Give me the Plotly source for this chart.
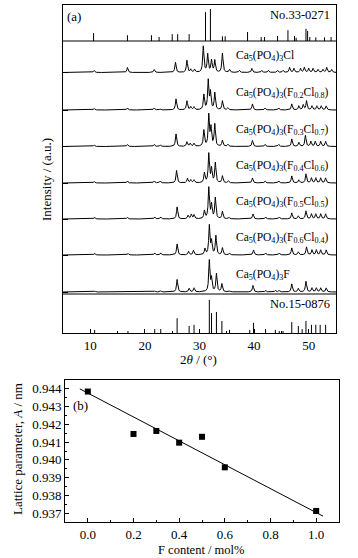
import numpy as np
import plotly.graph_objects as go

FONT = "Liberation Serif"
W, H = 358, 558

# ---------------- (a) XRD data ----------------
# reference card No.33-0271 (Ca5(PO4)3Cl): stick positions (2theta) and relative intensity (%)
ref33_pos = [10.6, 16.8, 21.2, 22.6, 25.0, 26.0, 28.1, 31.1, 32.0, 34.2, 34.7, 38.8, 41.3, 41.9,
             44.3, 46.2, 47.4, 47.7, 49.5, 49.8, 50.2, 51.3, 52.9, 54.1]
ref33_int = [22, 16, 16, 11, 19, 19, 19, 80, 89, 13, 13, 25, 11, 11,
             14, 30, 14, 9, 34, 28, 11, 10, 10, 11]

# reference card No.15-0876 (Ca5(PO4)3F)
ref15_pos = [10.8, 16.9, 21.8, 22.9, 25.9, 28.1, 29.0, 31.8, 32.2, 33.1, 34.1, 35.5, 39.2, 39.9,
             42.1, 43.9, 44.6, 45.3, 46.9, 48.1, 48.8, 49.5, 50.5, 51.3, 52.1, 53.1]
ref15_int = [8, 5, 10, 10, 38, 18, 21, 85, 51, 54, 31, 8, 8, 26,
             10, 8, 5, 5, 28, 18, 10, 31, 21, 21, 21, 21]

# measured patterns: peak positions (2theta) and peak heights (a.u.)
cl_pos = [10.7, 16.8, 21.7, 25.6, 27.7, 28.4, 29.1, 30.7, 31.5, 32.2, 32.8, 34.2, 35.5, 37.3, 39.6,
          41.4, 42.6, 44.3, 45.3, 46.5, 47.3, 48.5, 49.2, 50.0, 50.8, 51.7, 52.6, 53.3, 54.2]
cl_h = [2, 5, 3, 10, 12, 3, 3, 26, 18, 12, 12, 19, 3, 2, 4,
        2, 2, 2, 2, 5, 4, 4, 5, 4, 4, 3, 3, 5, 3]

f02_pos = [10.7, 16.8, 21.7, 22.8, 25.7, 27.7, 28.4, 29.0, 30.8, 31.6, 32.0, 32.8, 34.2, 35.2, 39.7,
           42.0, 44.5, 46.9, 48.2, 49.0, 49.6, 50.6, 51.5, 52.3, 53.2]
f02_h = [1.5, 2, 2, 1, 11, 9, 3, 3, 15, 29, 17, 17, 9, 2, 6,
         2, 2, 6, 4, 5, 9, 4, 4, 4, 4]

f03_pos = [10.7, 16.8, 21.7, 22.8, 25.7, 27.7, 28.3, 29.0, 30.8, 31.7, 32.1, 32.8, 34.2, 35.2, 39.7,
           42.0, 44.5, 46.9, 48.2, 49.4, 50.4, 51.2, 52.2, 53.1]
f03_h = [1.5, 2, 2, 1.5, 12.5, 4.5, 3, 3, 16, 31, 18, 22, 6, 2, 6,
         2, 2, 7.5, 4, 11, 5, 5, 5, 5]

f04_pos = [10.7, 16.8, 21.7, 22.8, 25.8, 27.8, 28.4, 29.0, 30.9, 31.7, 32.2, 32.9, 34.2, 35.3, 39.7,
           42.0, 44.5, 46.9, 48.2, 49.5, 50.5, 51.3, 52.2, 53.1]
f04_h = [1.5, 2, 2, 2, 12.5, 4.5, 3, 3, 10, 29, 14, 20, 7, 2, 5,
         2, 2, 7, 3, 9, 5, 5, 5, 5]

f05_pos = [10.8, 16.8, 21.8, 22.9, 25.9, 27.9, 28.5, 29.0, 30.9, 31.7, 32.2, 32.9, 34.2, 35.4, 39.8,
           42.1, 44.6, 46.9, 48.1, 49.5, 50.5, 51.3, 52.2, 53.1]
f05_h = [1.5, 1.5, 2, 2, 12, 3.5, 4.5, 4, 8, 31, 14, 21, 7.5, 1.5, 5,
         2, 2, 6, 3, 8, 5, 5, 5, 5]

f06_pos = [10.8, 16.9, 21.8, 22.9, 25.9, 28.0, 28.9, 31.0, 31.8, 32.2, 33.0, 34.2, 35.5, 39.9,
           42.1, 44.6, 46.9, 48.1, 49.6, 50.6, 51.4, 52.2, 53.2]
f06_h = [1.5, 1.5, 2, 2, 11, 3.5, 4.5, 6, 29, 13, 19, 7, 1.5, 5,
         2, 2, 7, 3, 8, 5, 5, 5, 5]

f10_pos = [10.8, 16.9, 21.8, 22.9, 25.9, 28.1, 29.0, 31.8, 32.2, 33.1, 34.1, 35.5, 39.8,
           42.1, 43.9, 44.6, 46.9, 48.1, 49.5, 50.6, 51.4, 52.2, 53.2]
f10_h = [1, 0.5, 1, 1, 12.5, 3.5, 4, 31, 13, 18, 8, 1, 6.5,
         1.5, 1.5, 1.5, 8, 3.5, 10.5, 4, 4, 4, 4]

sample_labels = [
    "Ca<sub>5</sub>(PO<sub>4</sub>)<sub>3</sub>Cl",
    "Ca<sub>5</sub>(PO<sub>4</sub>)<sub>3</sub>(F<sub>0.2</sub>Cl<sub>0.8</sub>)",
    "Ca<sub>5</sub>(PO<sub>4</sub>)<sub>3</sub>(F<sub>0.3</sub>Cl<sub>0.7</sub>)",
    "Ca<sub>5</sub>(PO<sub>4</sub>)<sub>3</sub>(F<sub>0.4</sub>Cl<sub>0.6</sub>)",
    "Ca<sub>5</sub>(PO<sub>4</sub>)<sub>3</sub>(F<sub>0.5</sub>Cl<sub>0.5</sub>)",
    "Ca<sub>5</sub>(PO<sub>4</sub>)<sub>3</sub>(F<sub>0.6</sub>Cl<sub>0.4</sub>)",
    "Ca<sub>5</sub>(PO<sub>4</sub>)<sub>3</sub>F",
]
card_labels = ["No.33-0271", "No.15-0876"]
x_ticks_a = [10, 20, 30, 40, 50]

# ---------------- (b) lattice parameter data ----------------
f_content = [0.0, 0.2, 0.3, 0.4, 0.5, 0.6, 1.0]
lattice_a = [0.94385, 0.94146, 0.94163, 0.94097, 0.94130, 0.93958, 0.93712]
fit_x = [-0.035, 1.03]
fit_y = [0.94400, 0.93683]

# ---------------- layout positions (stack offsets, in y-axis units) ----------------
Y_TOP = 328
ref_top_base, ref_top_h = 292, 36
ref_bot_base, ref_bot_h = 0, 39
curve_bases = [260.5, 223, 186.5, 150, 114, 78, 41]
label_dy = 17

curves = [(cl_pos, cl_h), (f02_pos, f02_h), (f03_pos, f03_h), (f04_pos, f04_h),
          (f05_pos, f05_h), (f06_pos, f06_h), (f10_pos, f10_h)]

tt = np.linspace(5, 55, 2501)


def profile(pos, h, hw=0.13):
    y = np.zeros_like(tt)
    for c, a in zip(pos, h):
        y += a / (1 + ((tt - c) / hw) ** 2)
    return y


def sticks(pos, inten, base, scale):
    xs, ys = [], []
    for p, i in zip(pos, inten):
        xs += [p, p, None]
        ys += [base, base + i * scale / 100.0, None]
    return xs, ys


fig = go.Figure()
line_style = dict(color="black", width=1)

xs, ys = sticks(ref33_pos, ref33_int, ref_top_base, ref_top_h)
fig.add_trace(go.Scatter(x=xs, y=ys, mode="lines", line=line_style, xaxis="x", yaxis="y",
                         showlegend=False, hoverinfo="skip"))
xs, ys = sticks(ref15_pos, ref15_int, ref_bot_base, ref_bot_h)
fig.add_trace(go.Scatter(x=xs, y=ys, mode="lines", line=line_style, xaxis="x", yaxis="y",
                         showlegend=False, hoverinfo="skip"))

for (pos, h), base in zip(curves, curve_bases):
    fig.add_trace(go.Scatter(x=tt, y=base + profile(pos, h), mode="lines", line=line_style,
                             xaxis="x", yaxis="y", showlegend=False, hoverinfo="skip"))

# (b)
fig.add_trace(go.Scatter(x=fit_x, y=fit_y, mode="lines", line=dict(color="black", width=1),
                         xaxis="x2", yaxis="y2", showlegend=False))
fig.add_trace(go.Scatter(x=f_content, y=lattice_a, mode="markers",
                         marker=dict(symbol="square", size=6, color="black"),
                         xaxis="x2", yaxis="y2", showlegend=False))

tickfont = dict(family=FONT, size=13, color="black")
axis_common = dict(showgrid=False, zeroline=False, showline=True, linecolor="black", linewidth=1,
                   mirror=True, ticks="inside", tickcolor="black", tickfont=tickfont)

fig.update_layout(
    width=W, height=H, margin=dict(l=0, r=0, t=0, b=0),
    paper_bgcolor="white", plot_bgcolor="white",
    font=dict(family=FONT, size=13, color="black"),
    xaxis=dict(domain=[63 / W, 336 / W], range=[5, 55], anchor="y", tickvals=x_ticks_a,
               ticklen=4, minor=dict(ticks="inside", ticklen=2, dtick=5, tick0=0, tickcolor="black"),
               ticklabelstandoff=0, **axis_common),
    yaxis=dict(domain=[1 - 333 / H, 1 - 5 / H], range=[0, Y_TOP], anchor="x",
               tickvals=curve_bases, ticklen=5, showticklabels=False, **axis_common),
    xaxis2=dict(domain=[65 / W, 339 / W], range=[-0.1, 1.1], anchor="y2", tick0=0, dtick=0.2,
                tickformat=".1f", ticklen=4, ticklabelstandoff=0,
                minor=dict(ticks="inside", ticklen=2, dtick=0.1, tick0=0, tickcolor="black"),
                **axis_common),
    yaxis2=dict(domain=[1 - 522 / H, 1 - 380 / H], range=[0.9365, 0.9445], anchor="x2",
                dtick=0.001, tick0=0.937, tickformat=".3f", ticklen=4,
                minor=dict(ticks="inside", ticklen=2, dtick=0.0005, tick0=0.937, tickcolor="black"),
                **axis_common),
)

# separators around reference-card panels
for yv in [ref_top_base, ref_bot_h]:
    fig.add_shape(type="line", xref="x domain", yref="y", x0=0, x1=1, y0=yv, y1=yv,
                  line=dict(color="black", width=1))

lab_font = dict(family=FONT, size=11.5, color="black")
for lab, base in zip(sample_labels, curve_bases):
    fig.add_annotation(x=36.3, y=base + label_dy, xref="x", yref="y", text=lab, showarrow=False,
                       xanchor="left", yanchor="middle", font=lab_font)
fig.add_annotation(x=54.2, y=ref_top_base + 26.5, xref="x", yref="y", text=card_labels[0],
                   showarrow=False, xanchor="right", yanchor="middle",
                   font=dict(family=FONT, size=12.5, color="black"))
fig.add_annotation(x=54.2, y=ref_bot_h - 10, xref="x", yref="y", text=card_labels[1],
                   showarrow=False, xanchor="right", yanchor="middle",
                   font=dict(family=FONT, size=12.5, color="black"))

title_font = dict(family=FONT, size=13, color="black")
fig.add_annotation(x=74 / W, y=1 - 16 / H, xref="paper", yref="paper", text="(a)", showarrow=False,
                   xanchor="center", yanchor="middle", font=title_font)
fig.add_annotation(x=80 / W, y=1 - 405 / H, xref="paper", yref="paper", text="(b)", showarrow=False,
                   xanchor="center", yanchor="middle", font=title_font)
fig.add_annotation(x=47 / W, y=1 - 180 / H, xref="paper", yref="paper", text="Intensity / (a.u.)",
                   textangle=-90, showarrow=False, xanchor="center", yanchor="middle", font=title_font)
fig.add_annotation(x=198 / W, y=1 - 359 / H, xref="paper", yref="paper", text="2<i>θ</i> / (°)",
                   showarrow=False, xanchor="center", yanchor="middle", font=title_font)
fig.add_annotation(x=17 / W, y=1 - 449 / H, xref="paper", yref="paper",
                   text="Lattice parameter, <i>A</i> / nm", textangle=-90, showarrow=False,
                   xanchor="center", yanchor="middle", font=title_font)
fig.add_annotation(x=201 / W, y=1 - 550 / H, xref="paper", yref="paper", text="F content / mol%",
                   showarrow=False, xanchor="center", yanchor="middle",
                   font=dict(family=FONT, size=12.5, color="black"))

fig.write_html("out.html", config={"displayModeBar": False},
               post_script="document.body.style.margin='0';")
